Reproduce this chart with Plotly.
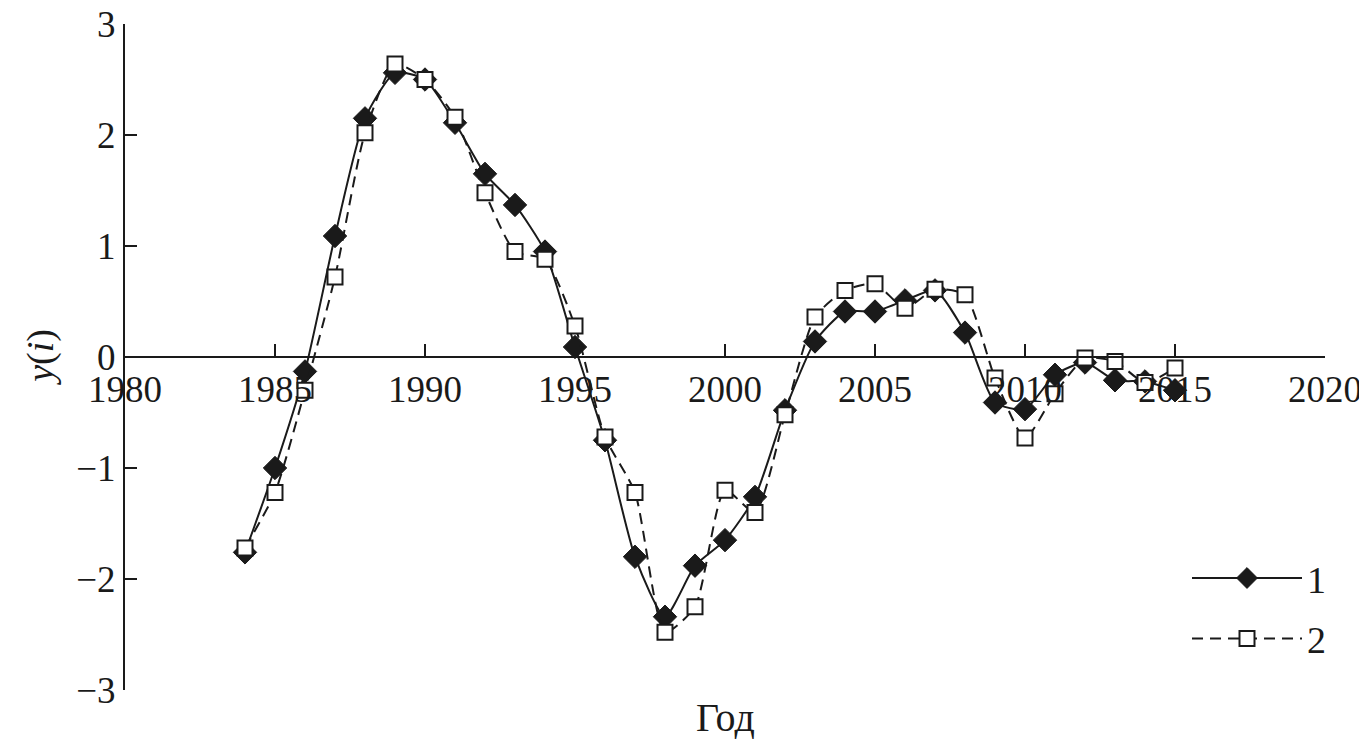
import plotly.graph_objects as go

years = list(range(1984, 2016))
series1 = [-1.76, -1.00, -0.13, 1.09, 2.15, 2.56, 2.50, 2.11, 1.65, 1.37, 0.95, 0.09,
           -0.75, -1.80, -2.34, -1.88, -1.65, -1.26, -0.48, 0.14, 0.41, 0.41, 0.51, 0.60,
           0.22, -0.41, -0.47, -0.16, -0.05, -0.21, -0.22, -0.30]
series2 = [-1.72, -1.22, -0.30, 0.72, 2.02, 2.64, 2.50, 2.16, 1.48, 0.95, 0.88, 0.28,
           -0.72, -1.22, -2.48, -2.25, -1.20, -1.40, -0.52, 0.36, 0.60, 0.66, 0.44, 0.61,
           0.56, -0.19, -0.73, -0.33, -0.01, -0.04, -0.23, -0.10]
names = ["1", "2"]
x_ticks = [1980, 1985, 1990, 1995, 2000, 2005, 2010, 2015, 2020]
y_ticks = [-3, -2, -1, 0, 1, 2, 3]

FONT = "Liberation Serif"
INK = "#1a1a1a"

fig = go.Figure()
fig.add_trace(go.Scatter(
    x=years, y=series1, name=names[0], mode="lines+markers", legendgroup="a",
    line=dict(color=INK, width=2, shape="spline", smoothing=0.6),
    marker=dict(symbol="diamond", size=18, color=INK, line=dict(color=INK, width=1)),
))
fig.add_trace(go.Scatter(
    x=years, y=series2, name=names[1], mode="lines+markers", legendgroup="b",
    line=dict(color=INK, width=2, shape="spline", smoothing=0.6, dash="11px,7px"),
    marker=dict(symbol="square", size=15, color="white", line=dict(color=INK, width=2)),
))

fig.update_layout(
    width=1367, height=745,
    margin=dict(l=117, r=50, t=16, b=63),
    paper_bgcolor="white", plot_bgcolor="white",
    font=dict(family=FONT, size=37, color=INK),
    showlegend=True,
    legend=dict(x=0.885, y=0.215, xanchor="left", yanchor="top",
                font=dict(family=FONT, size=38, color=INK),
                bgcolor="rgba(0,0,0,0)", itemwidth=110, tracegroupgap=8),
    xaxis=dict(range=[1980, 2020], tickmode="array", tickvals=x_ticks,
               ticktext=[str(v) for v in x_ticks],
               anchor="free", position=0.5, showline=True, linecolor=INK, linewidth=2,
               ticks="inside", ticklen=12, tickwidth=2, tickcolor=INK,
               showgrid=False, zeroline=False, automargin=False, ticklabeloverflow="allow",
               tickfont=dict(family=FONT, size=37, color=INK)),
    yaxis=dict(range=[-3, 3], tickmode="array", tickvals=y_ticks,
               ticktext=[("\u2212" + str(-v)) if v < 0 else str(v) for v in y_ticks],
               showline=True, linecolor=INK, linewidth=2,
               ticks="inside", ticklen=12, tickwidth=2, tickcolor=INK,
               showgrid=False, zeroline=False, automargin=False, ticklabeloverflow="allow",
               tickfont=dict(family=FONT, size=37, color=INK)),
)

fig.add_annotation(text="Год", xref="paper", yref="paper", x=0.5, y=-0.042,
                   xanchor="center", yanchor="middle", showarrow=False,
                   font=dict(family=FONT, size=40, color=INK))
fig.add_annotation(text="<i>y</i>(<i>i</i>)", xref="paper", yref="paper", x=-0.071, y=0.5,
                   xanchor="center", yanchor="middle", showarrow=False, textangle=-90,
                   font=dict(family=FONT, size=38, color=INK))

fig.write_html("out.html")
